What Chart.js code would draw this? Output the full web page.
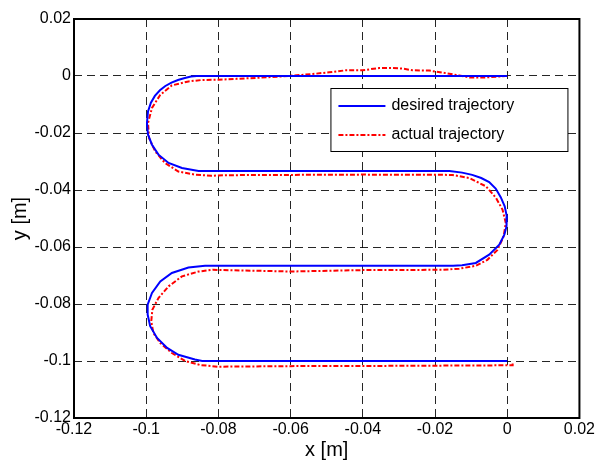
<!DOCTYPE html>
<html>
<head>
<meta charset="utf-8">
<script src="https://cdn.jsdelivr.net/npm/chart.js@4.4.1/dist/chart.umd.min.js"></script>
<style>
  html, body { margin: 0; padding: 0; background: #fff; }
  #wrap { width: 597px; height: 460px; }
</style>
</head>
<body>
<div id="wrap"><canvas id="chart" width="597" height="460"></canvas></div>
<script>
// ticks of both axes
const xTicks = [-0.12, -0.1, -0.08, -0.06, -0.04, -0.02, 0, 0.02];
const yTicks = [-0.12, -0.1, -0.08, -0.06, -0.04, -0.02, 0, 0.02];

// desired trajectory
const desiredX = [0, -0.086, -0.0876, -0.0893, -0.0912, -0.093, -0.0947, -0.0962, -0.0976, -0.0987, -0.0995, -0.0998, -0.0995, -0.0984, -0.0966, -0.0938, -0.0901, -0.0855,
  -0.016, -0.0125, -0.0097, -0.0072, -0.005, -0.0032, -0.0018, -0.0007, -0.0001, -0.0002, -0.0008, -0.0022, -0.005, -0.0087, -0.0125, -0.015,
  -0.0837, -0.0883, -0.0929, -0.0961, -0.0984, -0.0996, -0.0996, -0.0989, -0.097, -0.0942, -0.0911, -0.0865, -0.0845, 0];
const desiredY = [0, 0, -0.0002, -0.0007, -0.0014, -0.0023, -0.0035, -0.005, -0.007, -0.0094, -0.0124, -0.0165, -0.0206, -0.0241, -0.0276, -0.0305, -0.0323, -0.0333,
  -0.0333, -0.0339, -0.0347, -0.0358, -0.0372, -0.0395, -0.0425, -0.0457, -0.0493, -0.0528, -0.0557, -0.0592, -0.0627, -0.0656, -0.0664, -0.0666,
  -0.0666, -0.0672, -0.0691, -0.0721, -0.0761, -0.0802, -0.0837, -0.0878, -0.0919, -0.0954, -0.0978, -0.0995, -0.1, -0.1];

// actual trajectory
const actualX = [0, -0.0004, -0.0059, -0.0105, -0.0133, -0.017, -0.0216, -0.0262, -0.029, -0.0318, -0.0355, -0.0401, -0.0447, -0.0493, -0.0539, -0.063, -0.0686, -0.075, -0.08, -0.0846,
  -0.0883, -0.0929, -0.0961, -0.0984, -0.0995, -0.0992, -0.0975, -0.0948, -0.0911, -0.0865, -0.0819, -0.078, -0.06, -0.04, -0.0152,
  -0.0105, -0.0059, -0.0031, -0.0013, -0.0004, -0.001, -0.0027, -0.0055, -0.0087, -0.0133, -0.0179, -0.04, -0.06, -0.0815,
  -0.0855, -0.0901, -0.0938, -0.0966, -0.0983, -0.0986, -0.098, -0.0961, -0.0929, -0.0892, -0.0851, -0.0801, -0.06, -0.03, 0.0015, 0.0015];
const actualY = [0, 0, -0.0005, -0.0005, 0.0002, 0.001, 0.0019, 0.002, 0.0026, 0.0028, 0.0028, 0.002, 0.002, 0.0013, 0.0007, -0.0002, -0.0006, -0.001, -0.0013, -0.0014,
  -0.0019, -0.0033, -0.0066, -0.0112, -0.0165, -0.0218, -0.0265, -0.0305, -0.0335, -0.0346, -0.035, -0.0348, -0.0347, -0.0346, -0.0347,
  -0.0358, -0.0387, -0.0428, -0.0469, -0.0516, -0.0563, -0.061, -0.0645, -0.0666, -0.0676, -0.068, -0.0681, -0.0686, -0.068,
  -0.0686, -0.0703, -0.0738, -0.0779, -0.082, -0.0861, -0.0902, -0.0937, -0.0972, -0.1, -0.1014, -0.102, -0.1018, -0.1017, -0.1015, -0.1006];

const seriesNames = ["desired trajectory", "actual trajectory"];

function toPoints(xs, ys) {
  let pts = [];
  for (let i = 0; i < xs.length; i++) pts.push({ x: xs[i], y: ys[i] });
  return pts;
}

function fmt(v) {
  return String(Math.round(v * 100) / 100);
}

// box around the axes + legend in the upper right, matlab style
const boxAndLegend = {
  id: 'boxAndLegend',
  afterDraw(chart) {
    const ctx = chart.ctx;
    const a = chart.chartArea;
    ctx.save();
    ctx.strokeStyle = '#000';
    ctx.lineWidth = 2;
    ctx.setLineDash([]);
    ctx.strokeRect(a.left, a.top, a.right - a.left, a.bottom - a.top);

    const bx = a.right - 249, by = a.top + 69, bw = 237, bh = 63;
    ctx.fillStyle = '#fff';
    ctx.fillRect(bx, by, bw, bh);
    ctx.lineWidth = 1;
    ctx.strokeRect(bx + 0.5, by + 0.5, bw, bh);

    ctx.font = '16px "Liberation Sans", Arial, sans-serif';
    ctx.textBaseline = 'middle';
    ctx.fillStyle = '#000';
    const rows = [by + 18, by + 47];
    chart.data.datasets.forEach((ds, i) => {
      ctx.beginPath();
      ctx.strokeStyle = ds.borderColor;
      ctx.lineWidth = ds.borderWidth;
      ctx.setLineDash(ds.borderDash || []);
      ctx.moveTo(bx + 8, rows[i]);
      ctx.lineTo(bx + 55, rows[i]);
      ctx.stroke();
      ctx.setLineDash([]);
      ctx.fillText(ds.label, bx + 61, rows[i]);
    });
    ctx.restore();
  }
};

const tickFont = { family: '"Liberation Sans", Arial, sans-serif', size: 16 };
const titleFont = { family: '"Liberation Sans", Arial, sans-serif', size: 20, lineHeight: 1 };

new Chart(document.getElementById('chart'), {
  type: 'scatter',
  data: {
    datasets: [
      {
        label: seriesNames[0],
        data: toPoints(desiredX, desiredY),
        showLine: true,
        borderColor: '#0000ff',
        borderWidth: 2,
        pointRadius: 0,
        tension: 0
      },
      {
        label: seriesNames[1],
        data: toPoints(actualX, actualY),
        showLine: true,
        borderColor: '#ff0000',
        borderWidth: 2,
        borderDash: [5, 2, 2, 2],
        pointRadius: 0,
        tension: 0
      }
    ]
  },
  options: {
    responsive: false,
    animation: false,
    layout: { padding: { left: 0, right: 17, top: 19, bottom: 0 } },
    plugins: {
      legend: { display: false },
      tooltip: { enabled: false }
    },
    scales: {
      x: {
        type: 'linear',
        min: -0.12,
        max: 0.02,
        afterBuildTicks: (s) => { s.ticks = xTicks.map(v => ({ value: v })); },
        afterFit: (s) => { s.height = 42; },
        ticks: { font: tickFont, color: '#000', padding: 2, maxRotation: 0, autoSkip: false, callback: fmt },
        grid: { color: 'rgba(0,0,0,0.85)', lineWidth: 1, drawTicks: false },
        border: { display: false, dash: [8, 5] },
        title: { display: true, text: 'x [m]', font: titleFont, color: '#000', padding: 0 }
      },
      y: {
        type: 'linear',
        min: -0.12,
        max: 0.02,
        afterBuildTicks: (s) => { s.ticks = yTicks.map(v => ({ value: v })); },
        afterFit: (s) => { s.width = 74; },
        ticks: { font: tickFont, color: '#000', padding: 3, autoSkip: false, callback: fmt },
        grid: { color: 'rgba(0,0,0,0.85)', lineWidth: 1, drawTicks: false },
        border: { display: false, dash: [8, 5] },
        title: { display: true, text: 'y [m]', font: titleFont, color: '#000', padding: { top: 10, bottom: 0 } }
      }
    }
  },
  plugins: [boxAndLegend]
});
</script>
</body>
</html>
